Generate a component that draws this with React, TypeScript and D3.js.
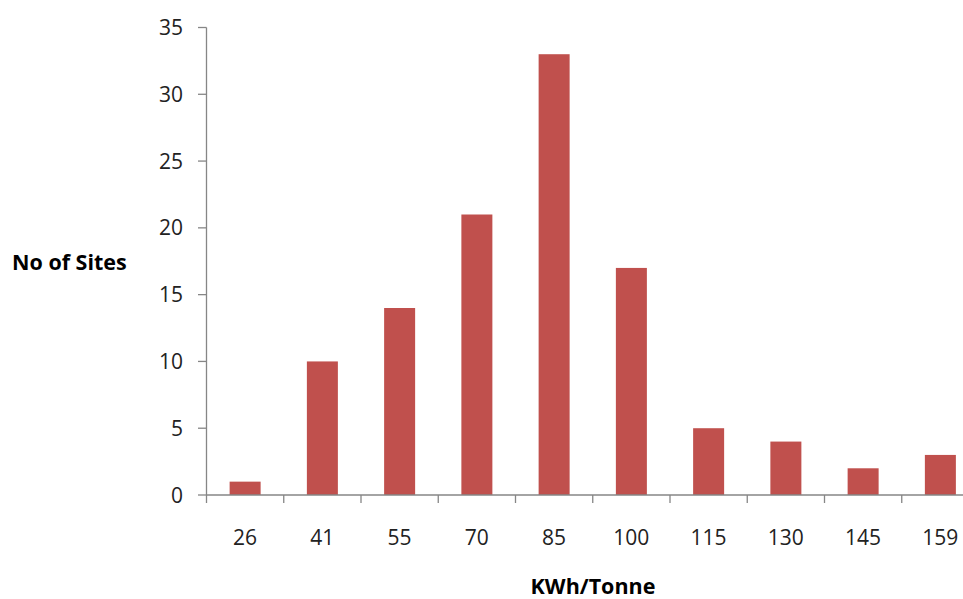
import React from "react";
import * as d3 from "d3";

const categories = ["26", "41", "55", "70", "85", "100", "115", "130", "145", "159"];
const siteCounts = [1, 10, 14, 21, 33, 17, 5, 4, 2, 3];
const yTicks = [0, 5, 10, 15, 20, 25, 30, 35];

const W = 963;
const H = 599;
const left = 206.5;
const right = 979;
const top = 27.5;
const bottom = 495;
const font = "'Open Sans', 'Liberation Sans', sans-serif";
const axisColor = "#868686";

export default function App() {
  const x = d3.scaleBand<string>().domain(categories).range([left, right]);
  const bandStep = x.step();
  const barWidth = 31;
  const y = d3.scaleLinear().domain([0, 35]).range([bottom, top]);

  return (
    <svg width={W} height={H} style={{ position: "absolute", left: 0, top: 0 }}>
      <rect width={W} height={H} fill="#fff" />
      {siteCounts.map((v, i) => {
        const cx = (x(categories[i]) ?? 0) + bandStep / 2;
        return (
          <rect
            key={categories[i]}
            x={cx - barWidth / 2}
            y={y(v)}
            width={barWidth}
            height={bottom - y(v)}
            fill="#C0504D"
          />
        );
      })}
      {/* y axis */}
      <line x1={left} x2={left} y1={top} y2={bottom} stroke={axisColor} strokeWidth={1.3} />
      {yTicks.map((t) => (
        <g key={t}>
          <line x1={198} x2={left} y1={y(t)} y2={y(t)} stroke={axisColor} strokeWidth={1.3} />
          <text x={183} y={y(t)} dy="0.36em" textAnchor="end" fontFamily={font} fontSize={21} fill="#222">
            {t}
          </text>
        </g>
      ))}
      {/* x axis */}
      <line x1={left} x2={right} y1={bottom} y2={bottom} stroke={axisColor} strokeWidth={1.3} />
      {categories.map((c) => {
        const x0 = x(c) ?? 0;
        return (
          <g key={c}>
            <line x1={x0} x2={x0} y1={bottom} y2={503} stroke={axisColor} strokeWidth={1.3} />
            <text x={x0 + bandStep / 2} y={537} dy="0.36em" textAnchor="middle" fontFamily={font} fontSize={21} fill="#222">
              {c}
            </text>
          </g>
        );
      })}
      <text x={12} y={262} dy="0.36em" fontFamily={font} fontSize={21.5} fontWeight="bold" fill="#000">
        No of Sites
      </text>
      <text x={593} y={586} dy="0.36em" textAnchor="middle" fontFamily={font} fontSize={21.5} fontWeight="bold" fill="#000">
        KWh/Tonne
      </text>
    </svg>
  );
}
